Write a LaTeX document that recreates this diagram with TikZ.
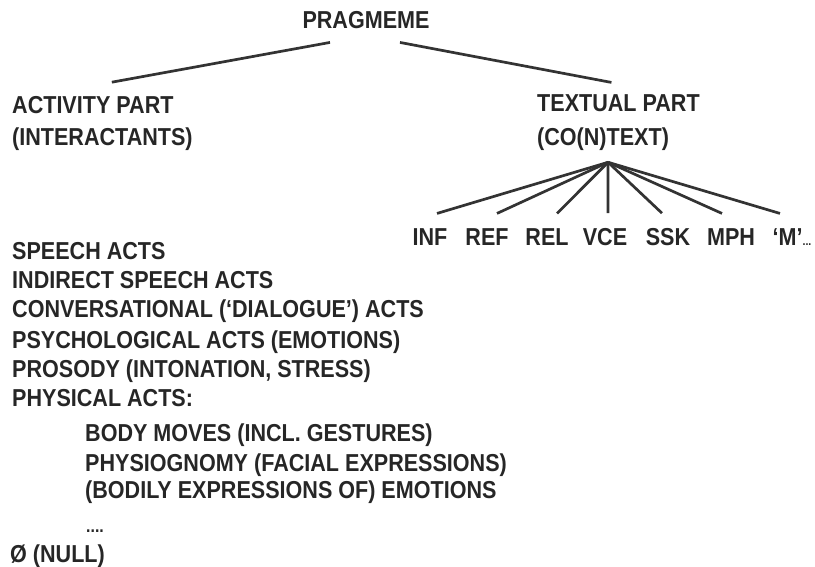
\documentclass[tikz,border=0pt]{standalone}
\usepackage{fontspec}
\setmainfont{Liberation Sans}[FakeStretch=0.88]
\usepackage{tikz}

\begin{document}
\begin{tikzpicture}[x=1pt,y=-1pt,
  lbl/.style={inner sep=0pt, anchor=base west, text=black!85,
    font=\fontsize{24.5}{28}\selectfont\bfseries},
  leaf/.style={lbl, anchor=base},
  branch/.style={draw=black!80, line width=2.7pt}]
  \useasboundingbox (0,0) rectangle (815,567);
  % top of the tree
  \node[leaf] (prag) at (366,29) {PRAGMEME};
  \node[lbl] (act) at (12,114) {ACTIVITY PART};
  \node[lbl] (inter) at (12,146) {(INTERACTANTS)};
  \node[lbl] (txt) at (537,112) {TEXTUAL PART};
  \node[lbl] (ctx) at (537,146) {(CO(N)TEXT)};
  \draw[branch] ([xshift=-36pt,yshift=-13pt]prag.south) -- ([xshift=19pt,yshift=14.5pt]act.north);
  \draw[branch] ([xshift=34pt,yshift=-13pt]prag.south) -- ([xshift=-7pt,yshift=12.5pt]txt.north);
  % textual part
  \coordinate (hub) at ([xshift=5pt,yshift=-11pt]ctx.south);
  \foreach \name/\lab/\x/\dx in {inf/INF/430/7, ref/REF/487/10, rel/REL/547/10,
      vce/VCE/605/3, ssk/SSK/668/-6, mph/MPH/731/-9} {
    \node[leaf] (\name) at (\x,246) {\lab};
    \draw[branch] (hub) -- ([xshift=\dx pt,yshift=15.5pt]\name.north);
  }
  \node[leaf] (mm) at (792,246) {‘M’{\fontsize{12}{12}\selectfont...}};
  \draw[branch] (hub) -- ([xshift=-12pt,yshift=15.5pt]mm.north);
  % activity part
  \node[lbl] (speech) at (12,259) {SPEECH ACTS};
  \node[lbl] (indirect) at (12,288) {INDIRECT SPEECH ACTS};
  \node[lbl] (convers) at (12,317) {CONVERSATIONAL (‘DIALOGUE’) ACTS};
  \node[lbl] (psych) at (12,348) {PSYCHOLOGICAL ACTS (EMOTIONS)};
  \node[lbl] (prosody) at (12,377) {PROSODY (INTONATION, STRESS)};
  \node[lbl] (physical) at (12,406) {PHYSICAL ACTS:};
  \node[lbl] (body) at (85,441) {BODY MOVES (INCL. GESTURES)};
  \node[lbl] (physio) at (85,471) {PHYSIOGNOMY (FACIAL EXPRESSIONS)};
  \node[lbl] (bodily) at (85,498) {(BODILY EXPRESSIONS OF) EMOTIONS};
  \node[lbl, font=\fontsize{18}{20}\selectfont\bfseries] (dots) at (86,532) {....};
  \node[lbl] (null) at (10,562) {Ø (NULL)};
\end{tikzpicture}
\end{document}
